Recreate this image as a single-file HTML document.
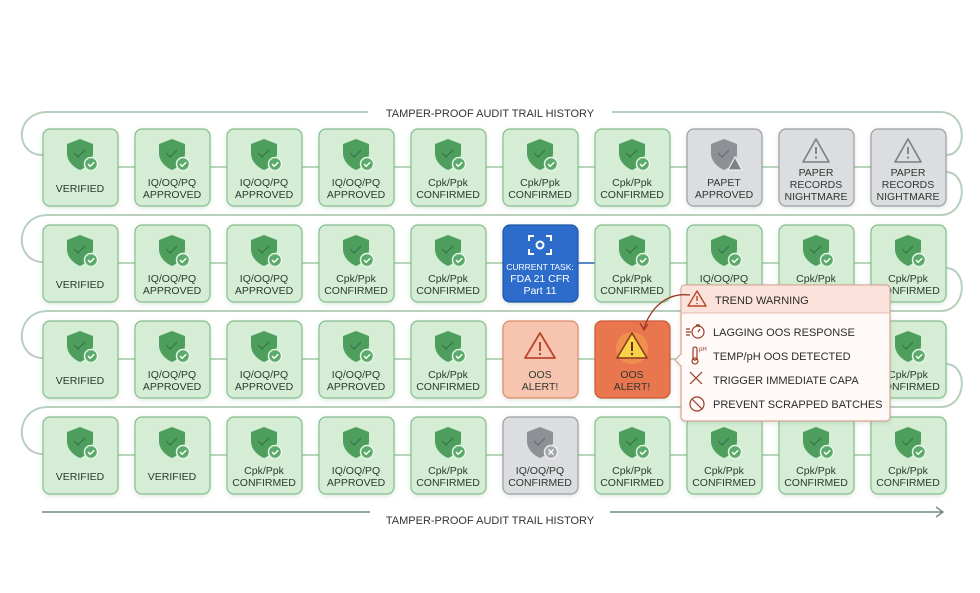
<!DOCTYPE html>
<html><head><meta charset="utf-8"><style>
html,body{margin:0;padding:0;background:#fff;}
svg{display:block;font-family:"Liberation Sans",sans-serif;}
.t{font-size:10.5px;fill:#2e3a30;text-anchor:middle;}
.g{fill:#d5edd5;stroke:#86bf8f;stroke-width:1.2;}
.gr{fill:#dcdde0;stroke:#9c9ea3;stroke-width:1.2;}
.ln{stroke:#b9cfbe;stroke-width:2;fill:none;}
.p{font-size:11px;fill:#2b2b2b;}
</style></head><body>
<svg width="980" height="593" viewBox="0 0 980 593" xmlns="http://www.w3.org/2000/svg">
<defs>
<filter id="sh" x="-20%" y="-20%" width="140%" height="140%"><feDropShadow dx="0" dy="1.5" stdDeviation="2" flood-color="#6a9a70" flood-opacity="0.25"/></filter>
<g id="sg"><path d="M13 0 L26 5 V14 C26 22 20 28 13 31 C6 28 0 22 0 14 V5 Z" fill="#4e9f5d"/><path d="M7 14 l4 4 l7 -7" stroke="#3a7d47" stroke-width="1.5" fill="none"/><circle cx="24" cy="25" r="6.5" fill="#5aab69" stroke="#e8f5e8" stroke-width="1.5"/><path d="M21 25 l2.2 2.2 l4 -4" stroke="#fff" stroke-width="1.4" fill="none"/></g>
<g id="sgr"><path d="M13 0 L26 5 V14 C26 22 20 28 13 31 C6 28 0 22 0 14 V5 Z" fill="#8d9196"/><path d="M7 14 l4 4 l7 -7" stroke="#6d7075" stroke-width="1.5" fill="none"/><circle cx="24" cy="25" r="6.5" fill="#a3a6ab" stroke="#eee" stroke-width="1.5"/><path d="M21.5 22.5 l5 5 M26.5 22.5 l-5 5" stroke="#fff" stroke-width="1.3"/></g>
<g id="sgw"><path d="M13 0 L26 5 V14 C26 22 20 28 13 31 C6 28 0 22 0 14 V5 Z" fill="#8d9196"/><path d="M7 14 l4 4 l7 -7" stroke="#6d7075" stroke-width="1.5" fill="none"/><path d="M24 18 L31 31 H17 Z" fill="#7d8085" stroke="#eee" stroke-width="1.2"/></g>
<g id="tri"><path d="M14 1 L27 24 H1 Z" fill="none" stroke="#7b7e83" stroke-width="1.6" stroke-linejoin="round"/><path d="M14 9 V16" stroke="#7b7e83" stroke-width="1.8"/><circle cx="14" cy="19.5" r="1.1" fill="#7b7e83"/></g>
</defs>

<path class="ln" stroke="#55615a" stroke-width="1.3" d="M46 112 H940 C968 112 968 155 946 155"/>
<path class="ln" stroke="#55615a" stroke-width="1.3" d="M48 112 C14 112 14 155 43 155"/>
<path class="ln" d="M46 215 H940 C968 215 968 172 946 172 M48 215 C14 215 14 262 43 262"/>
<path class="ln" d="M46 311 H940 C968 311 968 268 946 268 M48 311 C14 311 14 358 43 358"/>
<path class="ln" d="M46 407 H940 C968 407 968 364 946 364 M48 407 C14 407 14 454 43 454"/>
<rect x="368" y="104" width="244" height="16" fill="#fff"/>
<text x="490" y="117" class="t" style="font-size:11px;fill:#333">TAMPER-PROOF AUDIT TRAIL HISTORY</text>

<path d="M118 167H871 M118 263H871 M118 359H871 M118 455H871" stroke="#b7d6bb" stroke-width="2"/>
<path d="M578 263H595" stroke="#5b86c9" stroke-width="2"/>

<g filter="url(#sh)">
<rect class="g" x="43" y="129" width="75" height="77" rx="7"/>
<rect class="g" x="135" y="129" width="75" height="77" rx="7"/>
<rect class="g" x="227" y="129" width="75" height="77" rx="7"/>
<rect class="g" x="319" y="129" width="75" height="77" rx="7"/>
<rect class="g" x="411" y="129" width="75" height="77" rx="7"/>
<rect class="g" x="503" y="129" width="75" height="77" rx="7"/>
<rect class="g" x="595" y="129" width="75" height="77" rx="7"/>
<rect class="gr" x="687" y="129" width="75" height="77" rx="7"/>
<rect class="gr" x="779" y="129" width="75" height="77" rx="7"/>
<rect class="gr" x="871" y="129" width="75" height="77" rx="7"/>
</g>
<use href="#sg" x="67" y="139"/><use href="#sg" x="159" y="139"/><use href="#sg" x="251" y="139"/><use href="#sg" x="343" y="139"/><use href="#sg" x="435" y="139"/><use href="#sg" x="527" y="139"/><use href="#sg" x="619" y="139"/><use href="#sgw" x="711" y="139"/><use href="#tri" x="802" y="138"/><use href="#tri" x="894" y="138"/>
<text class="t" x="80" y="192">VERIFIED</text>
<text class="t" x="172" y="186">IQ/OQ/PQ</text><text class="t" x="172" y="198">APPROVED</text>
<text class="t" x="264" y="186">IQ/OQ/PQ</text><text class="t" x="264" y="198">APPROVED</text>
<text class="t" x="356" y="186">IQ/OQ/PQ</text><text class="t" x="356" y="198">APPROVED</text>
<text class="t" x="448" y="186">Cpk/Ppk</text><text class="t" x="448" y="198">CONFIRMED</text>
<text class="t" x="540" y="186">Cpk/Ppk</text><text class="t" x="540" y="198">CONFIRMED</text>
<text class="t" x="632" y="186">Cpk/Ppk</text><text class="t" x="632" y="198">CONFIRMED</text>
<text class="t" x="724" y="186">PAPET</text><text class="t" x="724" y="198">APPROVED</text>
<text class="t" x="816" y="176">PAPER</text><text class="t" x="816" y="188">RECORDS</text><text class="t" x="816" y="200">NIGHTMARE</text>
<text class="t" x="908" y="176">PAPER</text><text class="t" x="908" y="188">RECORDS</text><text class="t" x="908" y="200">NIGHTMARE</text>

<g filter="url(#sh)">
<rect class="g" x="43" y="225" width="75" height="77" rx="7"/>
<rect class="g" x="135" y="225" width="75" height="77" rx="7"/>
<rect class="g" x="227" y="225" width="75" height="77" rx="7"/>
<rect class="g" x="319" y="225" width="75" height="77" rx="7"/>
<rect class="g" x="411" y="225" width="75" height="77" rx="7"/>
<rect x="503" y="225" width="75" height="77" rx="7" fill="#2f6ccb" stroke="#1f56a8" stroke-width="1.2"/>
<rect class="g" x="595" y="225" width="75" height="77" rx="7"/>
<rect class="g" x="687" y="225" width="75" height="77" rx="7"/>
<rect class="g" x="779" y="225" width="75" height="77" rx="7"/>
<rect class="g" x="871" y="225" width="75" height="77" rx="7"/>
</g>
<use href="#sg" x="67" y="235"/><use href="#sg" x="159" y="235"/><use href="#sg" x="251" y="235"/><use href="#sg" x="343" y="235"/><use href="#sg" x="435" y="235"/><use href="#sg" x="619" y="235"/><use href="#sg" x="711" y="235"/><use href="#sg" x="803" y="235"/><use href="#sg" x="895" y="235"/>
<g stroke="#fff" stroke-width="2" fill="none"><path d="M529 241v-5h5 M546 236h5v5 M551 249v5h-5 M534 254h-5v-5"/><circle cx="540" cy="245" r="3.5"/></g>
<text class="t" x="540" y="270" style="fill:#fff;font-size:8.5px">CURRENT TASK:</text>
<text class="t" x="540" y="282" style="fill:#fff;font-size:10.5px">FDA 21 CFR</text>
<text class="t" x="540" y="294" style="fill:#fff;font-size:10.5px">Part 11</text>
<text class="t" x="80" y="288">VERIFIED</text>
<text class="t" x="172" y="282">IQ/OQ/PQ</text><text class="t" x="172" y="294">APPROVED</text>
<text class="t" x="264" y="282">IQ/OQ/PQ</text><text class="t" x="264" y="294">APPROVED</text>
<text class="t" x="356" y="282">Cpk/Ppk</text><text class="t" x="356" y="294">CONFIRMED</text>
<text class="t" x="448" y="282">Cpk/Ppk</text><text class="t" x="448" y="294">CONFIRMED</text>
<text class="t" x="632" y="282">Cpk/Ppk</text><text class="t" x="632" y="294">CONFIRMED</text>
<text class="t" x="724" y="282">IQ/OQ/PQ</text><text class="t" x="724" y="294">APPROVED</text>
<text class="t" x="816" y="282">Cpk/Ppk</text><text class="t" x="816" y="294">CONFIRMED</text>
<text class="t" x="908" y="282">Cpk/Ppk</text><text class="t" x="908" y="294">CONFIRMED</text>

<g filter="url(#sh)">
<rect class="g" x="43" y="321" width="75" height="77" rx="7"/>
<rect class="g" x="135" y="321" width="75" height="77" rx="7"/>
<rect class="g" x="227" y="321" width="75" height="77" rx="7"/>
<rect class="g" x="319" y="321" width="75" height="77" rx="7"/>
<rect class="g" x="411" y="321" width="75" height="77" rx="7"/>
<rect x="503" y="321" width="75" height="77" rx="7" fill="#f7c4af" stroke="#df8a6b" stroke-width="1.2"/>
<rect x="595" y="321" width="75" height="77" rx="7" fill="#e9764f" stroke="#c85a37" stroke-width="1.2"/>
<rect class="g" x="871" y="321" width="75" height="77" rx="7"/>
</g>
<use href="#sg" x="67" y="331"/><use href="#sg" x="159" y="331"/><use href="#sg" x="251" y="331"/><use href="#sg" x="343" y="331"/><use href="#sg" x="435" y="331"/><use href="#sg" x="895" y="331"/>
<path d="M540 333 L555 358 H525 Z" fill="none" stroke="#b8472a" stroke-width="1.8" stroke-linejoin="round"/><path d="M540 342V351" stroke="#b8472a" stroke-width="2"/><circle cx="540" cy="354" r="1.2" fill="#b8472a"/>
<circle cx="632" cy="348" r="16" fill="#f5a94a" opacity="0.5"/>
<path d="M632 333 L647 358 H617 Z" fill="#f8d24a" stroke="#8a3a1a" stroke-width="1.6" stroke-linejoin="round"/><path d="M632 342V351" stroke="#7a2e14" stroke-width="2"/><circle cx="632" cy="354" r="1.2" fill="#7a2e14"/>
<text class="t" x="80" y="384">VERIFIED</text>
<text class="t" x="172" y="378">IQ/OQ/PQ</text><text class="t" x="172" y="390">APPROVED</text>
<text class="t" x="264" y="378">IQ/OQ/PQ</text><text class="t" x="264" y="390">APPROVED</text>
<text class="t" x="356" y="378">IQ/OQ/PQ</text><text class="t" x="356" y="390">APPROVED</text>
<text class="t" x="448" y="378">Cpk/Ppk</text><text class="t" x="448" y="390">CONFIRMED</text>
<text class="t" x="540" y="378">OOS</text><text class="t" x="540" y="390">ALERT!</text>
<text class="t" x="632" y="378">OOS</text><text class="t" x="632" y="390">ALERT!</text>
<text class="t" x="908" y="378">Cpk/Ppk</text><text class="t" x="908" y="390">CONFIRMED</text>

<g filter="url(#sh)">
<rect class="g" x="43" y="417" width="75" height="77" rx="7"/>
<rect class="g" x="135" y="417" width="75" height="77" rx="7"/>
<rect class="g" x="227" y="417" width="75" height="77" rx="7"/>
<rect class="g" x="319" y="417" width="75" height="77" rx="7"/>
<rect class="g" x="411" y="417" width="75" height="77" rx="7"/>
<rect class="gr" x="503" y="417" width="75" height="77" rx="7"/>
<rect class="g" x="595" y="417" width="75" height="77" rx="7"/>
<rect class="g" x="687" y="417" width="75" height="77" rx="7"/>
<rect class="g" x="779" y="417" width="75" height="77" rx="7"/>
<rect class="g" x="871" y="417" width="75" height="77" rx="7"/>
</g>
<use href="#sg" x="67" y="427"/><use href="#sg" x="159" y="427"/><use href="#sg" x="251" y="427"/><use href="#sg" x="343" y="427"/><use href="#sg" x="435" y="427"/><use href="#sgr" x="527" y="427"/><use href="#sg" x="619" y="427"/><use href="#sg" x="711" y="427"/><use href="#sg" x="803" y="427"/><use href="#sg" x="895" y="427"/>
<text class="t" x="80" y="480">VERIFIED</text>
<text class="t" x="172" y="480">VERIFIED</text>
<text class="t" x="264" y="474">Cpk/Ppk</text><text class="t" x="264" y="486">CONFIRMED</text>
<text class="t" x="356" y="474">IQ/OQ/PQ</text><text class="t" x="356" y="486">APPROVED</text>
<text class="t" x="448" y="474">Cpk/Ppk</text><text class="t" x="448" y="486">CONFIRMED</text>
<text class="t" x="540" y="474">IQ/OQ/PQ</text><text class="t" x="540" y="486">CONFIRMED</text>
<text class="t" x="632" y="474">Cpk/Ppk</text><text class="t" x="632" y="486">CONFIRMED</text>
<text class="t" x="724" y="474">Cpk/Ppk</text><text class="t" x="724" y="486">CONFIRMED</text>
<text class="t" x="816" y="474">Cpk/Ppk</text><text class="t" x="816" y="486">CONFIRMED</text>
<text class="t" x="908" y="474">Cpk/Ppk</text><text class="t" x="908" y="486">CONFIRMED</text>

<path d="M42 512 H370 M610 512 H942 M936 507 L943 512 L936 517" stroke="#6f8c7a" stroke-width="1.4" fill="none"/>
<text x="490" y="524" class="t" style="font-size:11px;fill:#333">TAMPER-PROOF AUDIT TRAIL HISTORY</text>

<g filter="url(#sh)">
<path d="M685 285 H886 a4 4 0 0 1 4 4 V417 a4 4 0 0 1 -4 4 H685 a4 4 0 0 1 -4 -4 V366 L675 360 L681 354 V289 a4 4 0 0 1 4 -4 Z" fill="#fffaf8" stroke="#d9a394" stroke-width="1.2"/>
</g>
<path d="M682 289 a4 4 0 0 1 4 -3 H886 a3 3 0 0 1 3 3 V313 H682 Z" fill="#fbe3dc"/>
<path d="M681 313 H890" stroke="#e6b9ac" stroke-width="1"/>
<path d="M690 295 C665 292 650 310 644 328" stroke="#9b3a25" stroke-width="1.3" fill="none"/><path d="M640 323 L644 330 L648 324" stroke="#9b3a25" stroke-width="1.3" fill="none"/>
<path d="M697 291 L706 306 H688 Z" fill="none" stroke="#b8472a" stroke-width="1.4" stroke-linejoin="round"/><path d="M697 296V301" stroke="#b8472a" stroke-width="1.4"/><circle cx="697" cy="303.5" r="0.8" fill="#b8472a"/>
<text x="715" y="304" class="p">TREND WARNING</text>
<g stroke="#9b3a25" stroke-width="1.2" fill="none">
<circle cx="698" cy="332" r="6"/><path d="M698 332 l2 -3 M696 325 h4 M686 329 h4 M686 332 h5 M686 335 h4"/>
<rect x="693" y="347" width="4" height="13" rx="2"/><circle cx="695" cy="361" r="3"/>
<path d="M690 372 l12 12 M702 372 l-12 12"/>
<circle cx="697" cy="404" r="7"/><path d="M692 399 l10 10"/>
</g>
<text x="699" y="351" style="font-size:6px;fill:#9b3a25">pH</text>
<text x="713" y="336" class="p">LAGGING OOS RESPONSE</text>
<text x="713" y="360" class="p">TEMP/pH OOS DETECTED</text>
<text x="713" y="384" class="p">TRIGGER IMMEDIATE CAPA</text>
<text x="713" y="408" class="p">PREVENT SCRAPPED BATCHES</text>
</svg>
</body></html>
